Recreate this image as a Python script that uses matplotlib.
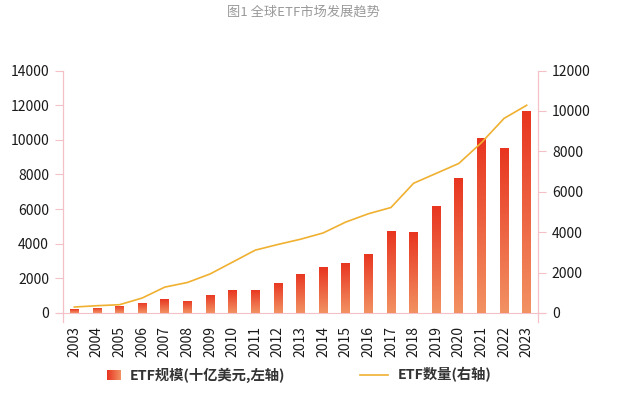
import matplotlib
matplotlib.use("Agg")
import matplotlib.pyplot as plt
import numpy as np
from matplotlib.colors import LinearSegmentedColormap
from matplotlib.lines import Line2D

plt.rcParams['font.family'] = ['Noto Sans CJK SC', 'DejaVu Sans']

years = ['2003', '2004', '2005', '2006', '2007', '2008', '2009', '2010', '2011', '2012',
         '2013', '2014', '2015', '2016', '2017', '2018', '2019', '2020', '2021', '2022', '2023']
aum = [212, 310, 417, 580, 807, 716, 1041, 1313, 1355, 1754,
       2254, 2635, 2904, 3423, 4720, 4654, 6200, 7769, 10077, 9519, 11635]
count = [295, 360, 410, 740, 1280, 1510, 1930, 2520, 3110, 3390,
         3650, 3960, 4500, 4910, 5220, 6420, 6910, 7400, 8430, 9630, 10280]
left_ticks = [0, 2000, 4000, 6000, 8000, 10000, 12000, 14000]
right_ticks = [0, 2000, 4000, 6000, 8000, 10000, 12000]
title = '图1 全球ETF市场发展趋势'
label_bar = 'ETF规模(十亿美元,左轴)'
label_line = 'ETF数量(右轴)'

W, H = 621, 398
fig = plt.figure(figsize=(W / 100, H / 100), dpi=100)
ax = fig.add_axes([63 / W, 1 - 322 / H, (538 - 63) / W, (322 - 70.5) / H])
ax2 = ax.twinx()

pink = '#f5c0c8'
top_col = '#e83520'
bot_col = '#f29263'
cmap = LinearSegmentedColormap.from_list('g', [bot_col, top_col])
grad = np.linspace(0, 1, 256).reshape(-1, 1)

x = np.arange(len(years))
bw = 0.385
bars = ax.bar(x, aum, width=bw, color='none', edgecolor='none', zorder=2)
for b in bars:
    x0, y0 = b.get_x(), b.get_y()
    im = ax.imshow(grad, cmap=cmap, aspect='auto', origin='lower',
                   extent=[x0, x0 + b.get_width(), y0, y0 + b.get_height()], zorder=2)
    im.set_clip_path(b)

ax.set_xlim(-0.5, len(years) - 0.5)
ax.set_ylim(-520, 14000)
ax.set_yticks(left_ticks)
ax.set_xticks(x)
ax.set_xticklabels(years, rotation=90, fontsize=10, color='#1a1a1a')
ax.tick_params(axis='x', length=0, pad=3)
ax.tick_params(axis='y', length=6, width=0.8, color=pink, labelsize=10, labelcolor='#1a1a1a', pad=4)
ax.axhline(0, xmin=-0.013, xmax=1.015, color=pink, lw=0.8, clip_on=False, zorder=1)

ax2.plot(x, count, color='#f0b030', lw=1.2, zorder=3)
ax2.set_ylim(-446, 12000)
ax2.set_yticks(right_ticks)
ax2.tick_params(axis='y', length=6, width=0.8, color=pink, labelsize=10, labelcolor='#1a1a1a', pad=4)

for a in (ax, ax2):
    a.spines['top'].set_visible(False)
    a.spines['bottom'].set_visible(False)
    a.spines['left'].set_color(pink)
    a.spines['right'].set_color(pink)
    a.spines['left'].set_linewidth(0.8)
    a.spines['right'].set_linewidth(0.8)
ax.spines['left'].set_bounds(-520, 14000)
ax2.spines['right'].set_bounds(-446, 12000)

fig.text(303 / W, 1 - 12 / H, title, ha='center', va='center', fontsize=9.5, color='#999999')

# legend
lax = fig.add_axes([107 / W, 1 - 380 / H, 14 / W, 10 / H])
lax.imshow(np.linspace(1, 0, 64).reshape(1, -1), cmap=cmap, aspect='auto')
lax.axis('off')
fig.text(130 / W, 1 - 375 / H, label_bar, ha='left', va='center', fontsize=10.3,
         fontweight='bold', color='#333333')
fig.add_artist(Line2D([360 / W, 388 / W], [1 - 375 / H, 1 - 375 / H], color='#f0b030', lw=1.2))
fig.text(398 / W, 1 - 375 / H, label_line, ha='left', va='center', fontsize=10.3,
         fontweight='bold', color='#333333')

fig.savefig('out.png', dpi=100)
